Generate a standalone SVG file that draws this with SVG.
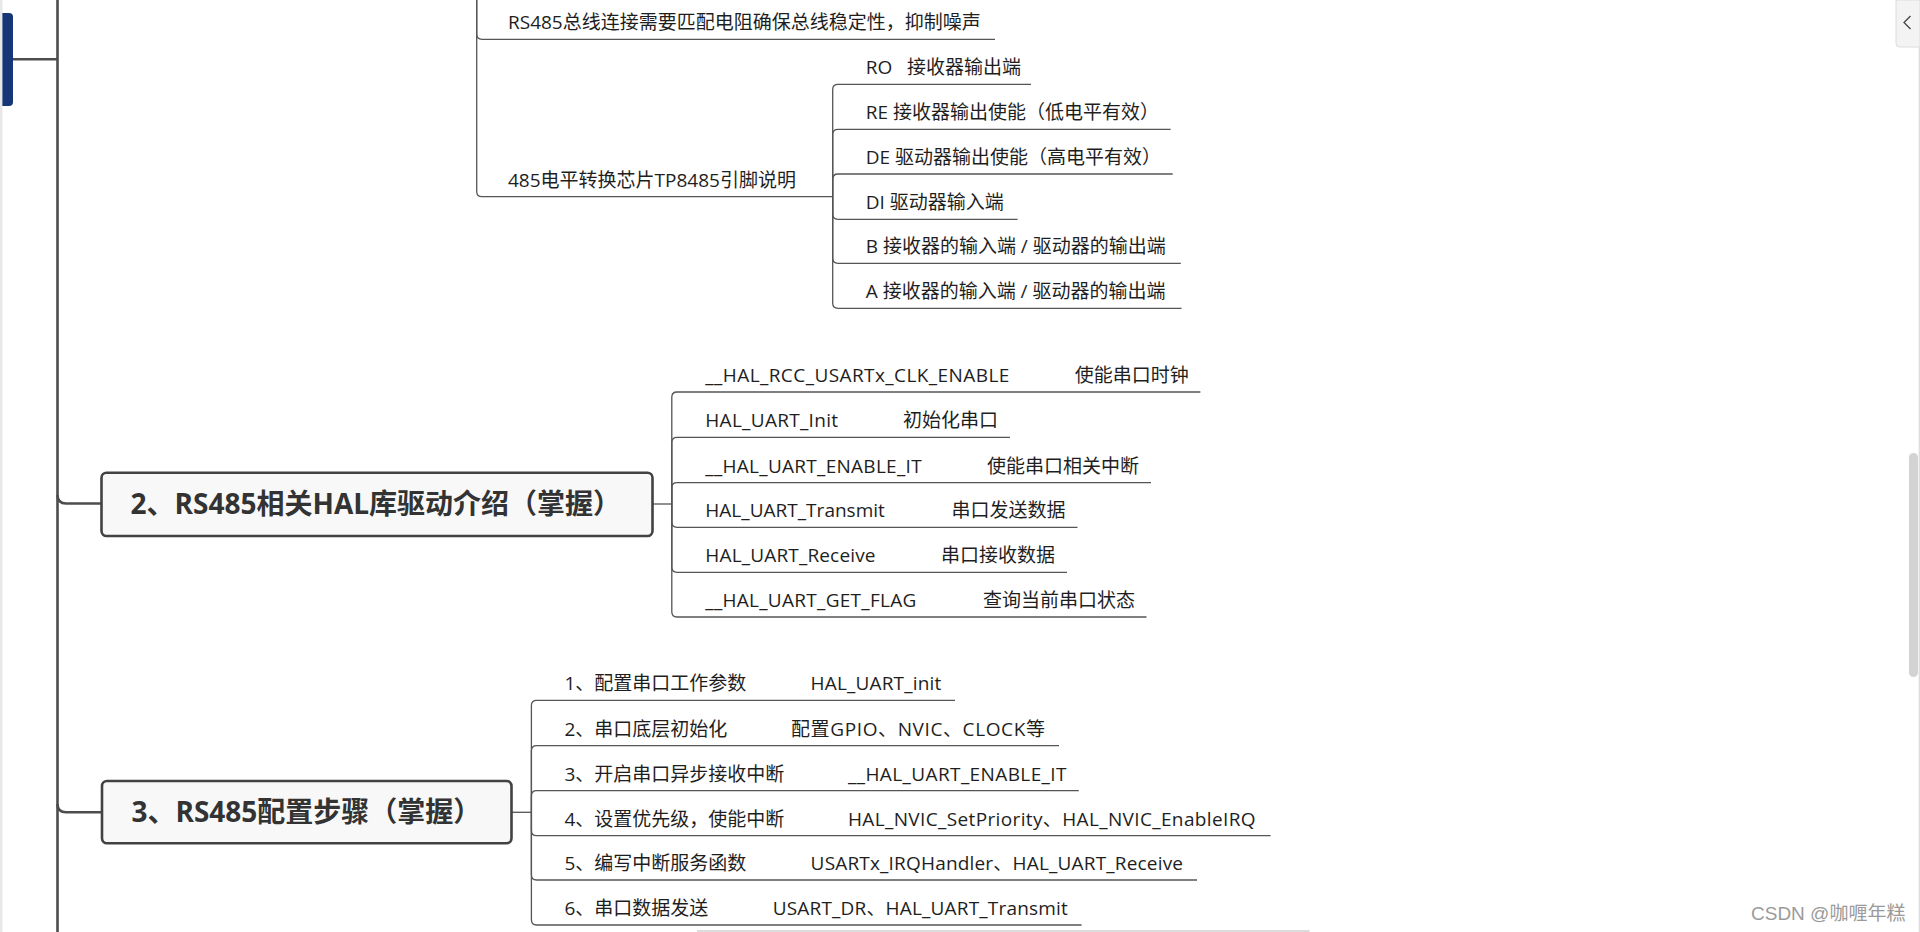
<svg xmlns="http://www.w3.org/2000/svg" width="1920" height="932" viewBox="0 0 1920 932">
<style>
.t{font-family:"Open Sans","Noto Sans CJK SC",sans-serif;font-size:19px;fill:#1e1e1e;white-space:pre}
.h{font-family:"Open Sans","Noto Sans CJK SC",sans-serif;font-size:28px;font-weight:bold;fill:#333}
.box{fill:#f8f8f8;stroke:#424242;stroke-width:2.6}
.main{fill:none;stroke:#4d4d4d;stroke-width:2.6}
.sub{fill:none;stroke:#555;stroke-width:1.3}
.wm{font-family:"Liberation Sans","Noto Sans CJK SC",sans-serif;font-size:19px;fill:#9a9a9a}
</style>
<rect x="0" y="0" width="1920" height="932" fill="#ffffff"/>
<rect x="0" y="0" width="2.5" height="932" fill="#e8e8e8"/>
<g id="root">
<path d="M2.4,13 H9 A4,4 0 0 1 13,17 V102 A4,4 0 0 1 9,106 H2.4 Z" fill="#173677"/>
</g>
<g id="connectors">
<path class="main" d="M57.5,0 V932"/>
<path class="main" d="M13,59.3 H57.5"/>
<path class="main" d="M57.5,495 Q57.5,503.5 66,503.5 H101"/>
<path class="main" d="M57.5,804 Q57.5,812.3 66,812.3 H102"/>
<path class="sub" d="M476.7,0 V34 Q476.7,39.3 482,39.3 H995"/>
<path class="sub" d="M476.7,0 V191.5 Q476.7,196.7 482,196.7 H832.7"/>
<path class="sub" d="M832.7,196.7 V89.5 Q832.7,84.3 838,84.3 H1031"/>
<path class="sub" d="M832.7,196.7 V134.5 Q832.7,129.3 838,129.3 H1170.6"/>
<path class="sub" d="M832.7,196.7 V179.2 Q832.7,174 838,174 H1172.7"/>
<path class="sub" d="M832.7,196.7 V214.1 Q832.7,219.3 838,219.3 H1017.6"/>
<path class="sub" d="M832.7,196.7 V258.1 Q832.7,263.3 838,263.3 H1180.8"/>
<path class="sub" d="M832.7,196.7 V303.1 Q832.7,308.3 838,308.3 H1181.6"/>
<path class="sub" d="M652.5,504 H671.8"/>
<path class="sub" d="M671.8,504 V397.2 Q671.8,392 677,392 H1200.4"/>
<path class="sub" d="M671.8,504 V442.5 Q671.8,437.3 677,437.3 H1010"/>
<path class="sub" d="M671.8,504 V487.9 Q671.8,482.7 677,482.7 H1151"/>
<path class="sub" d="M671.8,504 V522.1 Q671.8,527.3 677,527.3 H1077.5"/>
<path class="sub" d="M671.8,504 V567.1 Q671.8,572.3 677,572.3 H1067"/>
<path class="sub" d="M671.8,504 V611.8 Q671.8,617 677,617 H1146.5"/>
<path class="sub" d="M511.5,812.3 H531.4"/>
<path class="sub" d="M531.4,812.3 V705.5 Q531.4,700.3 536.6,700.3 H955"/>
<path class="sub" d="M531.4,812.3 V750.9 Q531.4,745.7 536.6,745.7 H1059"/>
<path class="sub" d="M531.4,812.3 V795.9 Q531.4,790.7 536.6,790.7 H1078.8"/>
<path class="sub" d="M531.4,812.3 V830.5 Q531.4,835.7 536.6,835.7 H1270.6"/>
<path class="sub" d="M531.4,812.3 V874.8 Q531.4,880 536.6,880 H1197"/>
<path class="sub" d="M531.4,812.3 V919.8 Q531.4,925 536.6,925 H1081.6"/>
</g>
<g id="s1-a"><text class="t" x="508" y="29.3">RS485总线连接需要匹配电阻确保总线稳定性，抑制噪声</text></g>
<g id="s1-b"><text class="t" x="508" y="186.7">485电平转换芯片TP8485引脚说明</text></g>
<g id="pin-ro"><text class="t" x="865.7" y="74.3">RO   接收器输出端</text></g>
<g id="pin-re"><text class="t" x="865.7" y="119.3">RE 接收器输出使能（低电平有效）</text></g>
<g id="pin-de"><text class="t" x="865.7" y="164">DE 驱动器输出使能（高电平有效）</text></g>
<g id="pin-di"><text class="t" x="865.7" y="209.3">DI 驱动器输入端</text></g>
<g id="pin-b"><text class="t" x="865.7" y="253.3">B 接收器的输入端 / 驱动器的输出端</text></g>
<g id="pin-a"><text class="t" x="865.7" y="298.3">A 接收器的输入端 / 驱动器的输出端</text></g>
<g id="section2">
<rect class="box" x="101.5" y="472.7" width="551" height="63.3" rx="5"/>
<text class="h" x="130.6" y="513.5">2、RS485相关HAL库驱动介绍（掌握）</text>
</g>
<g id="s2-1"><text class="t" x="705.3" y="382" textLength="304">__HAL_RCC_USARTx_CLK_ENABLE</text><text class="t" x="1074.7" y="382">使能串口时钟</text></g>
<g id="s2-2"><text class="t" x="705.3" y="427.3" textLength="132.7">HAL_UART_Init</text><text class="t" x="903" y="427.3">初始化串口</text></g>
<g id="s2-3"><text class="t" x="705.3" y="472.7" textLength="216.3">__HAL_UART_ENABLE_IT</text><text class="t" x="987" y="472.7">使能串口相关中断</text></g>
<g id="s2-4"><text class="t" x="705.3" y="517.3" textLength="179.6">HAL_UART_Transmit</text><text class="t" x="951.4" y="517.3">串口发送数据</text></g>
<g id="s2-5"><text class="t" x="705.3" y="562.3" textLength="170.2">HAL_UART_Receive</text><text class="t" x="941" y="562.3">串口接收数据</text></g>
<g id="s2-6"><text class="t" x="705.3" y="607" textLength="211">__HAL_UART_GET_FLAG</text><text class="t" x="983" y="607">查询当前串口状态</text></g>
<g id="section3">
<rect class="box" x="102" y="781" width="409.5" height="62.3" rx="5"/>
<text class="h" x="131.4" y="822">3、RS485配置步骤（掌握）</text>
</g>
<g id="s3-1"><text class="t" x="564.5" y="690.3">1、配置串口工作参数</text><text class="t" x="810.6" y="690.3" textLength="130.6">HAL_UART_init</text></g>
<g id="s3-2"><text class="t" x="564.5" y="735.7">2、串口底层初始化</text><text class="t" x="791" y="735.7" textLength="253.9">配置GPIO、NVIC、CLOCK等</text></g>
<g id="s3-3"><text class="t" x="564.5" y="780.7">3、开启串口异步接收中断</text><text class="t" x="848" y="780.7" textLength="218.5">__HAL_UART_ENABLE_IT</text></g>
<g id="s3-4"><text class="t" x="564.5" y="825.7">4、设置优先级，使能中断</text><text class="t" x="848" y="825.7" textLength="407.5">HAL_NVIC_SetPriority、HAL_NVIC_EnableIRQ</text></g>
<g id="s3-5"><text class="t" x="564.5" y="870">5、编写中断服务函数</text><text class="t" x="810.6" y="870" textLength="372.4">USARTx_IRQHandler、HAL_UART_Receive</text></g>
<g id="s3-6"><text class="t" x="564.5" y="915">6、串口数据发送</text><text class="t" x="772.7" y="915" textLength="295">USART_DR、HAL_UART_Transmit</text></g>
<line x1="697" y1="931" x2="1309.6" y2="931" stroke="#d0d0d0" stroke-width="1.5"/>
<g id="ui">
<line x1="1919.3" y1="47" x2="1919.3" y2="932" stroke="#dedede" stroke-width="1.4"/>
<path d="M1920,0 H1896 V43 A4,4 0 0 0 1900,47 H1920 Z" fill="#f3f3f3" stroke="#dcdcdc" stroke-width="1"/>
<path d="M1910.5,16 L1904,22.5 L1910.5,29" fill="none" stroke="#444" stroke-width="1.3"/>
<rect x="1909" y="453" width="9" height="224" rx="4.5" fill="#d3d3d3"/>
<text class="wm" x="1751" y="920">CSDN @咖喱年糕</text>
</g>
</svg>
